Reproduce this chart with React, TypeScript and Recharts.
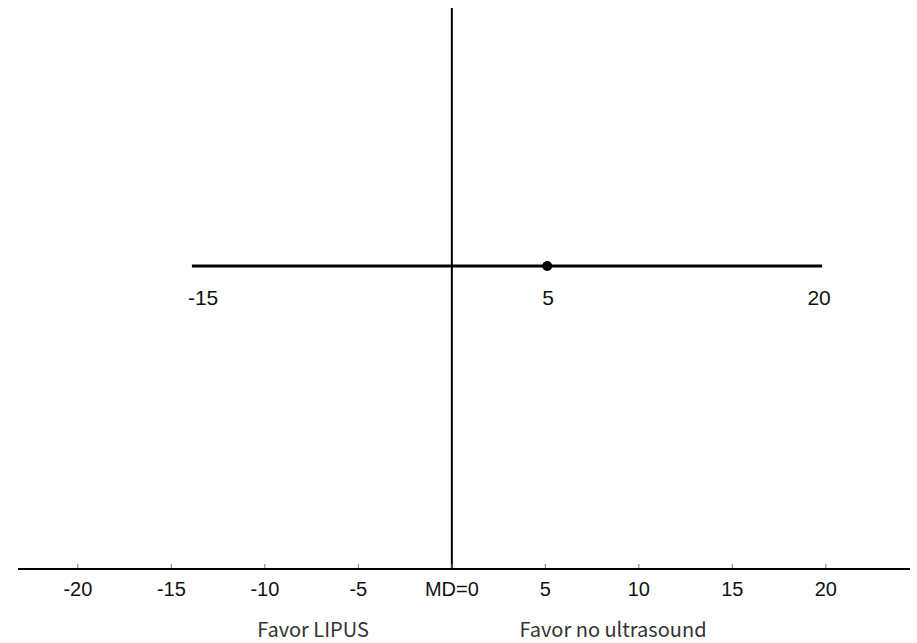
import React from 'react';
import { ComposedChart, XAxis, YAxis, ReferenceLine, Scatter } from 'recharts';

// ---- data ----
const xTicks = [-20, -15, -10, -5, 0, 5, 10, 15, 20];
const xTickLabels = ['-20', '-15', '-10', '-5', 'MD=0', '5', '10', '15', '20'];
const xDomain = [-23.2, 24.5];
const yDomain = [0, 1];
const studyRowY = 0.54;
const ciLower = -13.9;
const ciUpper = 19.8;
const pointEstimate = 5.1;
const ciLabels = ['-15', '5', '20'];
const sideLabels = ['Favor LIPUS', 'Favor no ultrasound'];

const W = 917;
const H = 643;

const AxisTick = (props: any) => {
  const { x, y, index } = props;
  return (
    <g>
      <line x1={x} x2={x} y1={y - 5} y2={y - 1} stroke="#4a7ebb" strokeWidth={1} />
      <text
        x={x}
        y={y + 27}
        textAnchor="middle"
        fontFamily="'Liberation Sans', Arial, sans-serif"
        fontSize={20}
        fill="#111"
      >
        {xTickLabels[index]}
      </text>
    </g>
  );
};

const LabelShape = (props: any) => {
  const { cx, cy, payload } = props;
  const anchor = payload.kind === 'lower' ? 'start' : 'middle';
  const dx = payload.kind === 'lower' ? -4 : payload.kind === 'upper' ? -3 : 1;
  return (
    <text
      x={cx + dx}
      y={cy + 39}
      textAnchor={anchor}
      fontFamily="'Liberation Sans', Arial, sans-serif"
      fontSize={21}
      fill="#111"
    >
      {payload.label}
    </text>
  );
};

const DotShape = (props: any) => {
  const { cx, cy } = props;
  return <circle cx={cx} cy={cy} r={5} fill="#000" />;
};

export default function App() {
  const pointData = [{ x: pointEstimate, y: studyRowY }];
  const labelData = [
    { x: ciLower, y: studyRowY, label: ciLabels[0], kind: 'lower' },
    { x: pointEstimate, y: studyRowY, label: ciLabels[1], kind: 'mid' },
    { x: ciUpper, y: studyRowY, label: ciLabels[2], kind: 'upper' },
  ];
  return (
    <div style={{ position: 'absolute', left: 0, top: 0, width: W, height: H, background: '#fff' }}>
      <ComposedChart width={W} height={H} margin={{ top: 8, right: 7, left: 18, bottom: 44 }}>
        <XAxis
          type="number"
          dataKey="x"
          domain={xDomain}
          ticks={xTicks}
          allowDataOverflow
          interval={0}
          height={30}
          tickSize={0}
          tickMargin={0}
          tickLine={false}
          axisLine={{ stroke: '#000', strokeWidth: 2 }}
          tick={<AxisTick />}
        />
        <YAxis type="number" dataKey="y" domain={yDomain} hide />
        <ReferenceLine x={0} stroke="#000" strokeWidth={2} />
        <ReferenceLine
          segment={[
            { x: ciLower, y: studyRowY },
            { x: ciUpper, y: studyRowY },
          ]}
          stroke="#000"
          strokeWidth={3}
        />
        <Scatter data={labelData} isAnimationActive={false} shape={<LabelShape />} />
        <Scatter data={pointData} fill="#000" isAnimationActive={false} shape={<DotShape />} />
      </ComposedChart>
      <svg
        width={W}
        height={H}
        style={{ position: 'absolute', left: 0, top: 0, pointerEvents: 'none' }}
      >
        <text x={313} y={637} textAnchor="middle" fontFamily="'Noto Sans CJK SC', 'Noto Sans', sans-serif" fontSize={20} fill="#333">
          {sideLabels[0]}
        </text>
        <text x={613} y={637} textAnchor="middle" fontFamily="'Noto Sans CJK SC', 'Noto Sans', sans-serif" fontSize={20} fill="#333">
          {sideLabels[1]}
        </text>
      </svg>
    </div>
  );
}
